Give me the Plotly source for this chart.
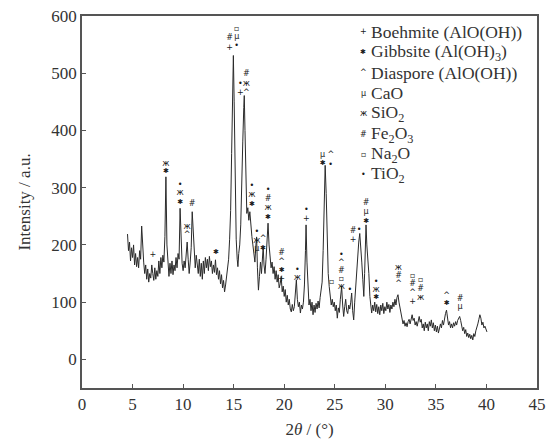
import plotly.graph_objects as go

two_theta = [
    4.50, 4.60, 4.70, 4.80, 4.90, 5.00, 5.10, 5.20, 5.30, 5.40, 5.50, 5.60, 5.70, 5.80, 5.90, 6.00,
    6.10, 6.20, 6.30, 6.40, 6.50, 6.60, 6.70, 6.80, 6.90, 7.00, 7.10, 7.20, 7.30, 7.40, 7.50, 7.60,
    7.70, 7.80, 7.90, 8.00, 8.10, 8.20, 8.30, 8.40, 8.50, 8.60, 8.70, 8.80, 8.90, 9.00, 9.10, 9.20,
    9.30, 9.40, 9.50, 9.60, 9.70, 9.80, 9.90, 10.00, 10.10, 10.20, 10.30, 10.40, 10.50, 10.60, 10.70,
    10.80, 10.90, 11.00, 11.10, 11.20, 11.30, 11.40, 11.50, 11.60, 11.70, 11.80, 11.90, 12.00, 12.10,
    12.20, 12.30, 12.40, 12.50, 12.60, 12.70, 12.80, 12.90, 13.00, 13.10, 13.20, 13.30, 13.40, 13.50,
    13.60, 13.70, 13.80, 13.90, 14.00, 14.10, 14.20, 14.30, 14.40, 14.50, 14.60, 14.70, 14.80, 14.90,
    14.97, 15.05, 15.15, 15.25, 15.35, 15.42, 15.50, 15.60, 15.70, 15.80, 15.90, 16.00, 16.05, 16.12,
    16.20, 16.30, 16.40, 16.50, 16.60, 16.70, 16.80, 16.90, 17.00, 17.10, 17.20, 17.27, 17.35, 17.45,
    17.55, 17.65, 17.75, 17.85, 17.92, 18.00, 18.10, 18.20, 18.30, 18.40, 18.50, 18.60, 18.70, 18.80,
    18.90, 19.00, 19.10, 19.20, 19.30, 19.40, 19.50, 19.60, 19.70, 19.80, 19.90, 20.00, 20.10, 20.20,
    20.30, 20.40, 20.50, 20.60, 20.70, 20.80, 20.90, 21.00, 21.10, 21.20, 21.30, 21.40, 21.50, 21.60,
    21.70, 21.80, 21.90, 22.00, 22.10, 22.16, 22.25, 22.35, 22.45, 22.55, 22.65, 22.75, 22.85, 22.95,
    23.05, 23.15, 23.25, 23.35, 23.45, 23.55, 23.65, 23.75, 23.85, 23.95, 24.05, 24.15, 24.25, 24.35,
    24.45, 24.55, 24.65, 24.75, 24.85, 24.95, 25.05, 25.15, 25.25, 25.35, 25.45, 25.55, 25.68, 25.78,
    25.88, 25.98, 26.08, 26.18, 26.28, 26.38, 26.48, 26.58, 26.67, 26.77, 26.87, 26.97, 27.07, 27.17,
    27.27, 27.37, 27.47, 27.57, 27.67, 27.77, 27.87, 27.95, 28.02, 28.09, 28.17, 28.27, 28.37, 28.47,
    28.57, 28.65, 28.75, 28.85, 28.95, 29.05, 29.15, 29.25, 29.35, 29.45, 29.55, 29.65, 29.75, 29.85,
    29.95, 30.05, 30.15, 30.25, 30.35, 30.45, 30.55, 30.65, 30.75, 30.85, 30.95, 31.05, 31.15, 31.25,
    31.35, 31.45, 31.55, 31.65, 31.75, 31.85, 31.95, 32.05, 32.15, 32.25, 32.35, 32.45, 32.55, 32.65,
    32.75, 32.85, 32.95, 33.05, 33.15, 33.25, 33.35, 33.45, 33.55, 33.65, 33.75, 33.85, 33.95, 34.05,
    34.15, 34.25, 34.35, 34.45, 34.55, 34.65, 34.75, 34.85, 34.95, 35.05, 35.15, 35.25, 35.35, 35.45,
    35.55, 35.65, 35.75, 35.85, 35.95, 36.05, 36.15, 36.25, 36.35, 36.45, 36.55, 36.65, 36.75, 36.85,
    36.95, 37.05, 37.15, 37.25, 37.35, 37.45, 37.55, 37.65, 37.75, 37.85, 37.95, 38.05, 38.15, 38.25,
    38.35, 38.45, 38.55, 38.65, 38.75, 38.85, 38.95, 39.05, 39.15, 39.25, 39.35, 39.45, 39.55, 39.65,
    39.75, 39.85, 39.95, 40.05,
]

intensity = [
    219, 190, 205, 172, 195, 178, 200, 165, 185, 162, 178, 160, 190, 175, 233, 185,
    170, 150, 165, 140, 158, 135, 150, 142, 165, 150, 138, 160, 140, 155, 145, 172,
    150, 178, 160, 182, 170, 215, 319, 200, 160, 145, 168, 150, 172, 148, 165, 155,
    178, 160, 185, 175, 264, 205, 168, 155, 172, 160, 185, 205, 175, 150, 170,
    195, 258, 215, 175, 160, 182, 165, 150, 175, 145, 168, 140, 172, 150,
    178, 160, 175, 155, 180, 162, 172, 150, 165, 152, 174, 148, 160, 140,
    155, 132, 148, 125, 138, 118, 130, 145, 160, 175, 210, 260, 360, 470,
    531, 450, 320, 210, 175, 162, 185, 200, 235, 290, 380, 440, 461, 400,
    310, 255, 265, 243, 258, 230, 215, 200, 180, 170, 200, 214, 160, 121,
    145, 170, 150, 185, 197, 165, 150, 175, 205, 238, 200, 175, 160, 170,
    150, 162, 140, 155, 135, 148, 125, 132, 145, 118, 128, 110, 122, 100,
    112, 95, 105, 88, 83, 96, 85, 92, 110, 139, 105, 92, 100, 81,
    95, 88, 100, 130, 190, 235, 170, 115, 95, 105, 85, 100, 78, 95,
    82, 98, 88, 102, 90, 108, 118, 135, 190, 280, 339, 290, 200, 150,
    127, 110, 95, 105, 92, 100, 85, 95, 72, 90, 82, 105, 127, 95,
    75, 92, 105, 85, 80, 95, 88, 100, 116, 85, 69, 100, 130, 150,
    175, 205, 220, 200, 170, 140, 110, 150, 200, 235, 200, 180, 150, 110,
    90, 81, 95, 85, 100, 83, 96, 80, 92, 78, 95, 85, 98, 80,
    92, 85, 100, 88, 96, 82, 95, 88, 100, 92, 105, 95, 108, 113,
    100, 90, 80, 70, 62, 68, 58, 64, 57, 66, 70, 62, 72, 78,
    68, 72, 60, 66, 58, 68, 75, 65, 70, 55, 62, 50, 65, 55,
    62, 50, 66, 58, 69, 55, 64, 50, 60, 48, 58, 46, 56, 62,
    55, 68, 60, 72, 80, 86, 70, 60, 66, 55, 62, 55, 64, 58,
    66, 60, 68, 72, 75, 68, 58, 50, 56, 45, 52, 40, 46, 38,
    44, 36, 42, 34, 45, 40, 50, 55, 62, 70, 78, 72, 60, 65,
    55, 58, 50, 48,
]

# Phase identification marks (2theta, intensity position of the mark)
boehmite_x = [7.0, 14.6, 15.65, 19.75, 22.2, 26.8, 32.7]
boehmite_y = [182, 544, 465, 141, 245, 209, 101]
gibbsite_x = [8.3, 9.7, 13.25, 16.8, 17.9, 18.4, 19.75, 23.8, 28.1, 29.1, 36.07]
gibbsite_y = [328, 275, 188, 271, 195, 248, 156, 343, 242, 108, 98]
diaspore_x = [10.4, 16.25, 17.9, 19.75, 24.6, 25.65, 31.3, 32.7, 36.07]
diaspore_y = [218, 465, 211, 171, 357, 168, 131, 116, 111]
cao_x = [15.3, 17.3, 23.8, 28.1, 37.4]
cao_y = [563, 193, 357, 257, 91]
sio2_x = [8.3, 9.7, 10.4, 16.25, 16.8, 17.3, 18.4, 21.3, 25.65, 29.1, 31.3, 33.5]
sio2_y = [342, 290, 232, 481, 287, 207, 264, 143, 126, 122, 160, 108]
fe2o3_x = [10.9, 14.6, 16.25, 18.4, 19.75, 25.65, 26.8, 28.1, 31.3, 32.7, 33.5, 37.4]
fe2o3_y = [271, 561, 498, 280, 186, 154, 224, 273, 146, 131, 123, 106]
na2o_x = [15.3, 24.7, 25.65, 32.7, 33.5]
na2o_y = [578, 136, 140, 146, 138]
tio2_x = [9.7, 15.3, 15.65, 16.8, 17.3, 18.4, 21.3, 22.2, 24.6, 25.65, 26.5, 27.4, 29.1]
tio2_y = [305, 548, 482, 303, 222, 296, 157, 261, 340, 182, 122, 226, 135]

phase_names = ["Boehmite (AlO(OH))", "Gibbsite (Al(OH)<sub>3</sub>)", "Diaspore (AlO(OH))",
               "CaO", "SiO<sub>2</sub>", "Fe<sub>2</sub>O<sub>3</sub>", "Na<sub>2</sub>O", "TiO<sub>2</sub>"]
phase_symbols = ["+", "✱", "^", "µ", "ж", "#", "▫", "•"]
phase_sizes = [8, 7, 8, 8, 8, 8, 8, 8]
phase_x = [boehmite_x, gibbsite_x, diaspore_x, cao_x, sio2_x, fe2o3_x, na2o_x, tio2_x]
phase_y = [boehmite_y, gibbsite_y, diaspore_y, cao_y, sio2_y, fe2o3_y, na2o_y, tio2_y]

x_ticks = [0, 5, 10, 15, 20, 25, 30, 35, 40, 45]
y_ticks = [0, 100, 200, 300, 400, 500, 600]

SERIF = "Liberation Serif"
TXT = "#333333"
LINE = "#555555"
MARK = "#1a1a1a"

FW, FH = 547, 443
# plot-area edges in figure pixels
L, R, T, B = 82, 537, 16, 388
W, H = R - L, B - T

fig = go.Figure()
fig.add_trace(go.Scatter(x=two_theta, y=intensity, mode="lines",
                         line=dict(color="#2a2a2a", width=1), showlegend=False,
                         hoverinfo="skip"))

for sym, size, xs, ys in zip(phase_symbols, phase_sizes, phase_x, phase_y):
    fig.add_trace(go.Scatter(x=xs, y=ys, mode="text", text=[sym] * len(xs),
                             textposition="middle center",
                             textfont=dict(family="DejaVu Sans", size=size, color=MARK),
                             showlegend=False, hoverinfo="skip"))

# legend drawn as text (symbols are glyphs)
row0, step = 32, 20.4
annotations = []
for i, (sym, size, name) in enumerate(zip(phase_symbols, phase_sizes, phase_names)):
    py = row0 + i * step
    annotations.append(dict(x=(363 - L) / W, y=(B - py) / H, xref="paper", yref="paper",
                            text=sym, showarrow=False, xanchor="center", yanchor="middle",
                            font=dict(family="DejaVu Sans", size=size, color=MARK)))
    annotations.append(dict(x=(369 - L) / W, y=(B - py) / H, xref="paper", yref="paper",
                            text=name, showarrow=False, xanchor="left", yanchor="middle",
                            font=dict(family=SERIF, size=17.5, color=TXT)))

fig.update_layout(
    width=FW, height=FH,
    margin=dict(l=L, r=FW - R, t=T, b=FH - B, autoexpand=False),
    paper_bgcolor="white", plot_bgcolor="white",
    font=dict(family=SERIF, size=16, color=TXT),
    annotations=annotations,
    xaxis=dict(range=[0, 45], tickvals=x_ticks, ticks="inside", ticklen=4, tickcolor=LINE,
               showline=True, linecolor=LINE, linewidth=1.5, mirror=True, showgrid=False,
               zeroline=False, automargin=False,
               tickfont=dict(family=SERIF, size=17, color=TXT),
               title=dict(text="2<i>θ</i> / (°)", standoff=10,
                          font=dict(family=SERIF, size=17, color=TXT))),
    yaxis=dict(range=[-50, 600], tickvals=y_ticks, ticks="inside", ticklen=4, tickcolor=LINE,
               showline=True, linecolor=LINE, linewidth=1.5, mirror=True, showgrid=False,
               zeroline=False, automargin=False,
               tickfont=dict(family=SERIF, size=17, color=TXT),
               title=dict(text="Intensity / a.u.", standoff=16,
                          font=dict(family=SERIF, size=17, color=TXT))),
)

fig.write_html("out.html", config={"displayModeBar": False},
               post_script="document.body.style.margin='0';document.body.style.overflow='hidden';")
